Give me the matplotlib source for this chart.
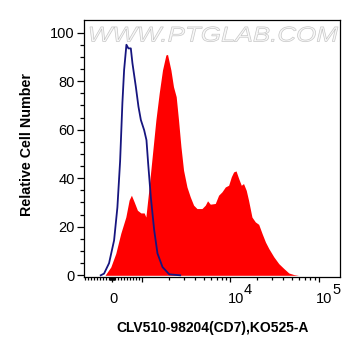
import matplotlib
matplotlib.use("Agg")
import matplotlib.pyplot as plt
from matplotlib.textpath import TextPath
from matplotlib.patches import PathPatch
from matplotlib.font_manager import FontProperties
from matplotlib.transforms import Affine2D, ScaledTranslation

plt.rcParams['font.family'] = ['Liberation Sans', 'DejaVu Sans']

# ---------------- data ----------------
# isotype / unstained control (blue line)
ctrl_x = [-377, -267, -100, 67, 177, 267, 343, 400, 477, 543, 623, 677, 790, 877,
          957, 1054, 1119, 1170, 1255, 1369, 1492, 1701, 2028, 2700]
ctrl_y = [0, 0.7, 5, 14.4, 28, 47, 71, 84.6, 95, 93.5, 93.5, 87.4, 77.7, 69.5,
          64, 59.8, 55.7, 46, 32, 18.6, 9, 3.4, 0.4, 0]

# CD7 stained sample (red fill)
cd7_x = [-233, -43, 123, 290, 457, 567, 643, 733, 843, 957, 1054, 1102, 1200, 1309, 1431,
         1560, 1701, 1859, 1939, 2118, 2266, 2432, 2584, 2753, 2947, 3222, 3512, 3830, 4182,
         4765, 5197, 5515, 5921, 6745, 7357, 8034, 8765, 9560, 10255, 10890, 11600, 12420,
         13300, 14100, 15140, 16060, 17570, 19180, 20950, 22900, 25000, 27300, 31100, 35400,
         40400, 46000, 52400, 59300]
cd7_y = [0, 3.4, 9, 17.3, 24, 31, 33, 30.3, 26.8, 25.7, 25.7, 24, 36.4, 50, 64,
         75, 84.6, 90.8, 91, 84.6, 77.7, 73.6, 64, 53, 43.3, 36.4, 32.3, 28.9, 27.5,
         27.5, 28.9, 30.7, 29.3, 29.6, 33, 34.4, 36.4, 37.1, 40.6, 42.6, 43, 39.9,
         37.1, 37.8, 35, 31, 24, 22, 21, 17.2, 13.7, 11, 7.6, 4.8,
         2.8, 0.95, 0.3, 0]

x_major = [0, 1e3, 1e4, 1e5]
x_major_labels = ['0', '', '10', '10']
x_exponents = {1e4: '4', 1e5: '5'}
x_minor = ([-900, -800, -700, -600, -500, -400, -300, -200, -100,
            -80, -60, -40, -20, 20, 40, 60, 80,
            100, 200, 300, 400, 500, 600, 700, 800, 900]
           + [k * 1000 for k in range(2, 10)]
           + [k * 10000 for k in range(2, 10)])
y_major = [0, 20, 40, 60, 80, 100]
y_minor = [v for v in range(0, 105, 5) if v % 20]

# ---------------- figure ----------------
W, H = 361, 356
fig = plt.figure(figsize=(W / 100, H / 100), dpi=100)
ax = fig.add_axes([84 / W, 79 / H, 256 / W, 257 / H])

ax.fill_between(cd7_x, cd7_y, 0, color='#ff0000', lw=0, zorder=2)
ax.plot(ctrl_x, ctrl_y, color='#16157f', lw=1.3, zorder=3)

ax.set_xscale('symlog', linthresh=1000, linscale=0.307)
ax.set_xlim(-933, 175000)
ax.set_ylim(-0.7, 105.2)

ax.set_xticks(x_major, x_major_labels)
ax.set_xticks(x_minor, minor=True)
ax.set_yticks(y_major)
ax.set_yticks(y_minor, minor=True)

for s in ax.spines.values():
    s.set_linewidth(0.9)
ax.tick_params(axis='both', which='both', direction='out', width=0.9, labelsize=10.5)
ax.tick_params(axis='y', which='major', length=5.3, pad=1.5)
ax.tick_params(axis='y', which='minor', length=2.9)
ax.tick_params(axis='x', which='major', length=3.8, pad=14.6)
ax.tick_params(axis='x', which='minor', length=2.0)

shift = ScaledTranslation(-2.5 / 100, 0, fig.dpi_scale_trans)
for lab in ax.get_xticklabels():
    lab.set_horizontalalignment('left')
    lab.set_verticalalignment('baseline')
    lab.set_transform(lab.get_transform() + shift)

# exponents drawn at full size, as in the reference
for xv, e in x_exponents.items():
    ax.annotate(e, xy=(xv, 0), xycoords=('data', 'axes fraction'),
                xytext=(9.9, -12.3), textcoords='offset points',
                ha='left', va='baseline', fontsize=10.5)

ax.set_xlabel('CLV510-98204(CD7),KO525-A', fontsize=10, fontweight='bold', va='center')
ax.xaxis.set_label_coords(0.504, -0.198)
ax.set_ylabel('Relative Cell Number', fontsize=10.3, fontweight='bold', va='center')
ax.yaxis.set_label_coords(-0.2246, 0.515)

# watermark
wm = TextPath((0, 0), 'WWW.PTGLAB.COM', size=10,
              prop=FontProperties(family='Liberation Sans', style='italic'))
bb = wm.get_extents()
tr = (Affine2D().translate(-bb.x0, -bb.y0)
      .scale(248 / bb.width, 15 / bb.height)
      .translate(90, H - 41.7)
      .scale(1 / W, 1 / H))
fig.add_artist(PathPatch(tr.transform_path(wm), transform=fig.transFigure,
                         fc='#f8f8f8', ec='#c6c6c6', lw=0.5, zorder=5))

fig.savefig('out.png', dpi=100)
